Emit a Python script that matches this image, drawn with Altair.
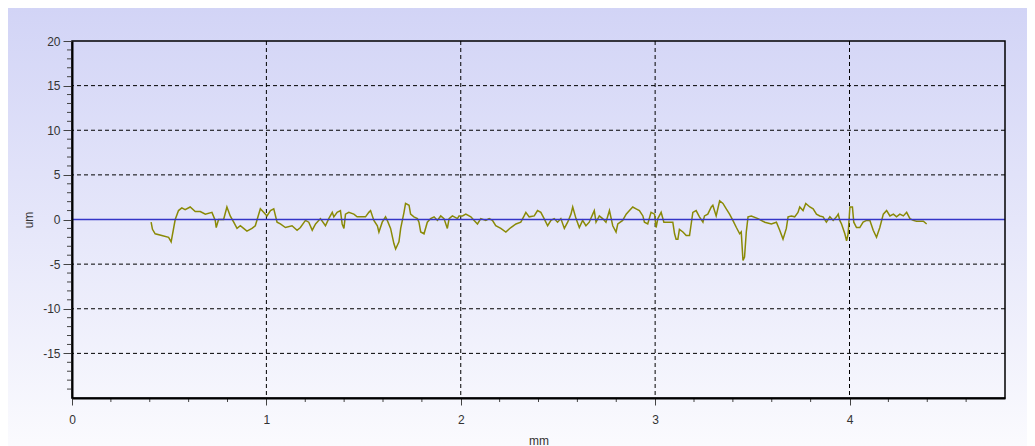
import altair as alt
import pandas as pd

# profile (mm, um)
x_mm = [0.407, 0.414, 0.428, 0.462, 0.497, 0.510, 0.531, 0.548, 0.565, 0.582, 0.608, 0.634, 0.660, 0.686,
        0.720, 0.737, 0.742, 0.754, 0.780, 0.797, 0.814, 0.832, 0.849, 0.866, 0.883, 0.900, 0.926, 0.943,
        0.969, 0.986, 1.003, 1.021, 1.038, 1.055, 1.072, 1.098, 1.132, 1.158, 1.175, 1.201,
        1.218, 1.236, 1.253, 1.278, 1.304, 1.321, 1.339, 1.347, 1.364, 1.381, 1.390, 1.399, 1.407, 1.424,
        1.450, 1.467, 1.493, 1.510, 1.527, 1.536, 1.553, 1.571, 1.579, 1.596, 1.613, 1.622, 1.639, 1.656,
        1.665, 1.682, 1.691, 1.708, 1.716, 1.734, 1.742, 1.759, 1.777, 1.785, 1.794, 1.811, 1.828, 1.845,
        1.863, 1.880, 1.897, 1.914, 1.931, 1.940, 1.957, 1.983,
        1.991, 2.009, 2.026, 2.052, 2.069, 2.086, 2.103, 2.129, 2.146, 2.163, 2.180, 2.206, 2.232, 2.258,
        2.284, 2.309, 2.326, 2.335, 2.352, 2.378, 2.395, 2.412, 2.429, 2.447, 2.464, 2.481, 2.498, 2.515,
        2.533, 2.550, 2.567, 2.576, 2.593, 2.610, 2.627, 2.644, 2.661, 2.679, 2.687, 2.696, 2.713, 2.730,
        2.747, 2.765, 2.782, 2.799,
        2.808, 2.833, 2.851, 2.868, 2.885, 2.902, 2.919, 2.937, 2.945, 2.962, 2.979, 2.997, 3.005, 3.014,
        3.031, 3.045, 3.065, 3.091, 3.100, 3.108, 3.117, 3.125, 3.143, 3.160, 3.177, 3.194, 3.211, 3.228,
        3.246, 3.254, 3.271, 3.289, 3.297, 3.314, 3.332, 3.349, 3.366, 3.383, 3.400, 3.418, 3.435, 3.443,
        3.452, 3.460, 3.469, 3.478, 3.495, 3.529, 3.564, 3.598,
        3.624, 3.641, 3.658, 3.675, 3.684, 3.701, 3.718, 3.735, 3.744, 3.761, 3.775, 3.796, 3.813, 3.830,
        3.847, 3.864, 3.881, 3.899, 3.916, 3.933, 3.942, 3.950, 3.959, 3.976, 3.985, 3.993, 4.002, 4.015,
        4.022, 4.036, 4.053, 4.070, 4.088, 4.105, 4.122, 4.139, 4.156, 4.174, 4.191, 4.208, 4.226, 4.242,
        4.259, 4.277, 4.294, 4.311, 4.328, 4.345, 4.380, 4.397]
y_um = [-0.3, -1.1, -1.6, -1.8, -2.0, -2.5, 0.0, 1.0, 1.3, 1.1, 1.4, 0.9, 0.9, 0.6,
        0.8, -0.1, -0.9, 0.0, 0.0, 1.4, 0.4, -0.3, -1.0, -0.7, -1.0, -1.3, -1.0, -0.7,
        1.2, 0.8, 0.4, 1.0, 1.2, -0.3, -0.5, -0.9, -0.7, -1.2, -0.9, -0.1,
        -0.3, -1.2, -0.5, 0.1, -0.7, 0.1, 0.8, 0.3, 0.8, 1.0, -0.5, -1.0, 0.6, 0.8,
        0.6, 0.3, 0.3, 0.3, 0.8, 1.0, -0.1, -0.7, -1.4, -0.3, 0.3, -0.1, -1.0, -2.7,
        -3.3, -2.5, -1.0, 0.8, 1.8, 1.6, 0.6, 0.3, 0.1, -0.3, -1.4, -1.6, -0.3, 0.1,
        0.3, -0.1, 0.4, 0.1, -1.0, 0.1, 0.4, 0.1,
        0.4, 0.4, 0.6, 0.3, -0.1, -0.5, 0.1, -0.1, 0.1, -0.1, -0.7, -1.0, -1.4, -0.9,
        -0.5, -0.3, 0.4, 0.8, 0.3, 0.4, 1.0, 0.8, 0.1, -0.7, -0.1, 0.1, -0.3, 0.1,
        -1.0, -0.3, 0.6, 1.4, 0.1, -0.9, -0.1, -0.7, -0.3, 0.6, 1.0, -0.3, 0.4, 0.1,
        -0.3, 1.0, -0.7, -1.4,
        -0.5, -0.1, 0.6, 1.0, 1.4, 1.2, 1.0, 0.4, -0.3, -0.5, 0.8, 0.6, -0.9, 0.1,
        0.8, -0.3, -0.3, -0.3, -1.6, -2.2, -2.2, -1.1, -1.4, -1.8, -1.8, 0.8, 1.0, 0.3,
        -0.3, 0.4, 0.6, 1.4, 1.6, 0.4, 2.1, 1.8, 1.2, 0.6, -0.1, -0.9, -1.6, -1.4,
        -4.6, -4.2, -1.4, 0.3, 0.4, 0.1, -0.3, -0.5,
        -0.3, -1.2, -2.2, -1.0, 0.3, 0.4, 0.3, 0.8, 1.4, 1.0, 1.8, 1.4, 1.2, 0.6,
        0.4, 0.3, -0.3, 0.3, -0.1, 0.3, 0.6, -0.1, -0.5, -1.6, -2.4, -1.6, 1.4, 1.4,
        -0.3, -0.9, -0.9, -0.3, -0.1, -0.1, -1.2, -2.0, -0.9, 0.6, 1.0, 0.4, 0.6, 0.3,
        0.6, 0.4, 0.8, 0.1, -0.1, -0.2, -0.2, -0.5]

grid_x = [1, 2, 3, 4]
grid_y = [-15, -10, -5, 5, 10, 15]
x_ticks = [0, 1, 2, 3, 4]
y_ticks = [20, 15, 10, 5, 0, -5, -10, -15]
x_minor = [0.2, 0.4, 0.6, 0.8, 1.2, 1.4, 1.6, 1.8, 2.2, 2.4, 2.6, 2.8,
           3.2, 3.4, 3.6, 3.8, 4.2, 4.4, 4.6]
y_minor = [-19, -18, -17, -16, -14, -13, -12, -11, -9, -8, -7, -6, -4, -3, -2, -1,
           1, 2, 3, 4, 6, 7, 8, 9, 11, 12, 13, 14, 16, 17, 18, 19]

W, H = 933, 357
PL, PT, PR, PB = 64, 33, 22, 54
FONT = "Liberation Sans"

xs = alt.Scale(domain=[0, 4.8], nice=False, zero=False)
ys = alt.Scale(domain=[-20, 20], nice=False, zero=False)

profile = pd.DataFrame({"x": x_mm, "y": y_um})

bg = alt.Chart(pd.DataFrame({"k": [0]})).mark_rect(
    clip=False,
    fill=alt.Gradient(
        gradient="linear",
        stops=[alt.GradientStop(color="#d2d4f6", offset=0),
               alt.GradientStop(color="#e6e7fa", offset=0.5),
               alt.GradientStop(color="#fbfbfe", offset=1)],
        x1=0, x2=0, y1=0, y2=1),
).encode(x=alt.value(-PL), x2=alt.value(W + PR), y=alt.value(-PT), y2=alt.value(H + PB))

gx = alt.Chart(pd.DataFrame({"x": grid_x})).mark_rule(
    color="black", strokeWidth=1, strokeDash=[4, 3]
).encode(x=alt.X("x:Q", scale=xs))

gy = alt.Chart(pd.DataFrame({"y": grid_y})).mark_rule(
    color="black", strokeWidth=1, strokeDash=[4, 3]
).encode(y=alt.Y("y:Q", scale=ys))

line = alt.Chart(profile).mark_line(color="#8a8a06", strokeWidth=1.5).encode(
    x=alt.X("x:Q", scale=xs,
            axis=alt.Axis(values=x_ticks, title="mm", grid=False, tickSize=7, labelPadding=9,
                          labelExpr="'' + datum.value", labelFlush=False,
                          zindex=2, domainColor="black", domainWidth=2, tickColor="#444",
                          titleX=W / 2, titleY=42, titleBaseline="middle", titleAlign="center")),
    y=alt.Y("y:Q", scale=ys,
            axis=alt.Axis(values=y_ticks, title="um", grid=False, tickSize=9, labelPadding=3,
                          labelExpr="'' + datum.value", labelFlush=False,
                          zindex=2, domainColor="black", domainWidth=2, tickColor="#444",
                          titleX=-44, titleY=H / 2, titleAngle=-90, titleBaseline="middle",
                          titleAlign="center")),
)

zero = alt.Chart(pd.DataFrame({"y": [0]})).mark_rule(color="#3535c8", strokeWidth=1.5).encode(
    y=alt.Y("y:Q", scale=ys))

border = alt.Chart(pd.DataFrame({"k": [0]})).mark_rect(
    filled=False, stroke="black", strokeWidth=1.5, clip=False
).encode(x=alt.value(0), x2=alt.value(W), y=alt.value(0), y2=alt.value(H))

mx = alt.Chart(pd.DataFrame({"x": x_minor})).mark_rule(color="#444", clip=False).encode(
    x=alt.X("x:Q", scale=xs), y=alt.value(H), y2=alt.value(H + 4))

my = alt.Chart(pd.DataFrame({"y": y_minor})).mark_rule(color="#444", clip=False).encode(
    y=alt.Y("y:Q", scale=ys), x=alt.value(-5), x2=alt.value(0))

chart = alt.layer(bg, gx, gy, line, zero, border, mx, my).properties(
    width=W, height=H,
    padding={"left": PL, "top": PT, "right": PR, "bottom": PB},
    autosize=alt.AutoSizeParams(type="none"),
).configure_view(stroke=None).configure_axis(
    labelFont=FONT, labelFontSize=12, labelColor="#333",
    titleFont=FONT, titleFontSize=12, titleColor="#333", titleFontWeight="normal",
)

chart.save("out.html", embed_options={"renderer": "svg", "actions": False})
